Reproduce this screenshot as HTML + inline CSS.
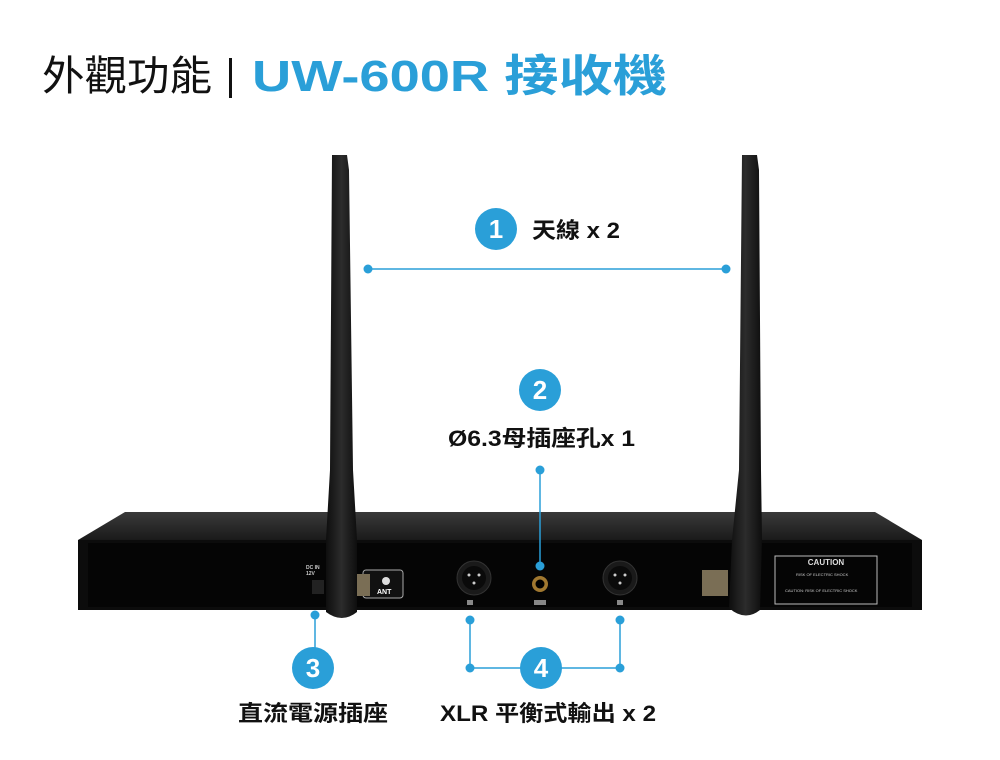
<!DOCTYPE html>
<html><head><meta charset="utf-8"><style>
body{margin:0;width:1000px;height:760px;background:#fff;overflow:hidden;font-family:"Liberation Sans","Noto Sans CJK TC",sans-serif}
</style></head><body>
<svg width="1000" height="760" xmlns="http://www.w3.org/2000/svg" style="position:absolute;left:0;top:0">
<defs>
<linearGradient id="top" x1="0" y1="0" x2="0" y2="1"><stop offset="0" stop-color="#3a3a3a"/><stop offset="1" stop-color="#1a1a1a"/></linearGradient>
<linearGradient id="ant" x1="0" y1="0" x2="1" y2="0"><stop offset="0" stop-color="#0e0e0e"/><stop offset=".5" stop-color="#2c2c2c"/><stop offset="1" stop-color="#0e0e0e"/></linearGradient>
</defs>
<text x="42" y="90" font-size="41" fill="#111" font-family="Noto Sans CJK TC,sans-serif" textLength="170" lengthAdjust="spacingAndGlyphs">外觀功能</text>
<rect x="229" y="58" width="3" height="40" fill="#111"/>
<text x="252" y="91" font-size="44" font-weight="bold" fill="#2a9fd8" font-family="Liberation Sans,Noto Sans CJK TC,sans-serif" textLength="415" lengthAdjust="spacingAndGlyphs">UW-600R 接收機</text>
<!-- device -->
<polygon points="125,512 875,512 922,540 78,540" fill="url(#top)"/>
<rect x="78" y="540" width="844" height="70" fill="#0c0c0c"/>
<rect x="88" y="543" width="824" height="64" fill="#050505"/>
<rect x="363" y="570" width="40" height="28" rx="3" fill="#111" stroke="#aaa" stroke-width="1"/>
<text x="377" y="594" font-size="7" fill="#fff" font-weight="bold">ANT</text>
<circle cx="386" cy="581" r="4" fill="#ddd"/>
<text x="306" y="569" font-size="5" fill="#ccc" font-weight="bold">DC IN</text>
<text x="306" y="575" font-size="5" fill="#ccc" font-weight="bold">12V</text>
<rect x="312" y="580" width="12" height="14" fill="#222"/>
<rect x="350" y="574" width="20" height="22" fill="#7a6e55"/>
<rect x="702" y="570" width="26" height="26" fill="#7a6e55"/>
<circle cx="474" cy="578" r="17" fill="#1a1a1a" stroke="#333"/>
<circle cx="474" cy="578" r="12" fill="#0a0a0a"/>
<circle cx="469" cy="575" r="1.5" fill="#ccc"/><circle cx="479" cy="575" r="1.5" fill="#ccc"/><circle cx="474" cy="583" r="1.5" fill="#ccc"/>
<circle cx="620" cy="578" r="17" fill="#1a1a1a" stroke="#333"/>
<circle cx="620" cy="578" r="12" fill="#0a0a0a"/>
<circle cx="615" cy="575" r="1.5" fill="#ccc"/><circle cx="625" cy="575" r="1.5" fill="#ccc"/><circle cx="620" cy="583" r="1.5" fill="#ccc"/>
<circle cx="540" cy="584" r="8" fill="#a07830"/><circle cx="540" cy="584" r="4.5" fill="#000"/>
<rect x="534" y="600" width="12" height="5" fill="#888"/>
<rect x="467" y="600" width="6" height="5" fill="#888"/><rect x="617" y="600" width="6" height="5" fill="#888"/>
<rect x="775" y="556" width="102" height="48" fill="none" stroke="#bbb"/>
<text x="826" y="565" font-size="8" fill="#ddd" font-weight="bold" text-anchor="middle">CAUTION</text>
<text x="796" y="576" font-size="4" fill="#ccc">RISK OF ELECTRIC SHOCK</text>
<text x="785" y="592" font-size="4" fill="#ccc">CAUTION: RISK OF ELECTRIC SHOCK</text>
<!-- antennas -->
<path d="M332,155 L347,155 L349,170 L353,470 L357,540 L357,612 Q342,624 326,612 L326,540 L330,470 Z" fill="url(#ant)"/>
<path d="M742,155 L757,155 L759,170 L761,470 L762,540 L760,610 Q745,622 729,608 L732,540 L739,470 Z" fill="url(#ant)"/>
<!-- callouts -->
<g fill="#2a9fd8" stroke="#2a9fd8">
<line x1="368" y1="269" x2="726" y2="269" stroke-width="1.5"/>
<circle cx="368" cy="269" r="4.5" stroke="none"/><circle cx="726" cy="269" r="4.5" stroke="none"/>
<line x1="540" y1="470" x2="540" y2="565" stroke-width="1.5"/>
<circle cx="540" cy="470" r="4.5" stroke="none"/><circle cx="540" cy="566" r="4.5" stroke="none"/>
<line x1="315" y1="615" x2="315" y2="648" stroke-width="1.5"/>
<circle cx="315" cy="615" r="4.5" stroke="none"/>
<polyline points="470,620 470,668 521,668" fill="none" stroke-width="1.5"/>
<polyline points="620,620 620,668 561,668" fill="none" stroke-width="1.5"/>
<circle cx="470" cy="620" r="4.5" stroke="none"/><circle cx="620" cy="620" r="4.5" stroke="none"/>
<circle cx="470" cy="668" r="4.5" stroke="none"/><circle cx="620" cy="668" r="4.5" stroke="none"/>
<circle cx="496" cy="229" r="21" stroke="none"/>
<circle cx="540" cy="390" r="21" stroke="none"/>
<circle cx="313" cy="668" r="21" stroke="none"/>
<circle cx="541" cy="668" r="21" stroke="none"/>
</g>
<g fill="#fff" font-size="26" font-weight="bold" text-anchor="middle">
<text x="496" y="238">1</text><text x="540" y="399">2</text><text x="313" y="677">3</text><text x="541" y="677">4</text>
</g>
<g fill="#111" font-size="22" font-weight="bold" font-family="Liberation Sans,Noto Sans CJK TC,sans-serif" lengthAdjust="spacingAndGlyphs">
<text x="532" y="238" textLength="88" lengthAdjust="spacingAndGlyphs">天線 x 2</text>
<text x="448" y="446" textLength="187" lengthAdjust="spacingAndGlyphs">Ø6.3母插座孔x 1</text>
<text x="238" y="721" textLength="150" lengthAdjust="spacingAndGlyphs">直流電源插座</text>
<text x="440" y="721" textLength="216" lengthAdjust="spacingAndGlyphs">XLR 平衡式輸出 x 2</text>
</g>
</svg>
</body></html>
